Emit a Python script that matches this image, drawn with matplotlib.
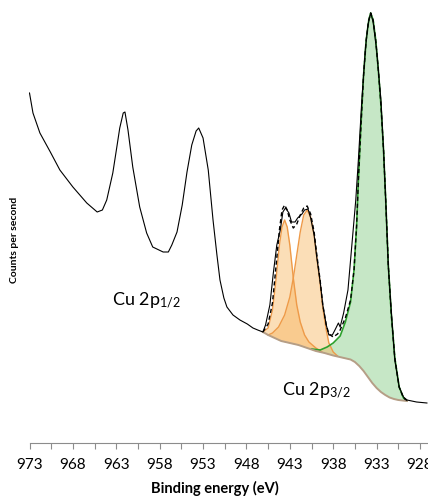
import matplotlib
matplotlib.use("Agg")
import matplotlib.pyplot as plt
import numpy as np

plt.rcParams['font.family'] = ['Lato', 'DejaVu Sans']
plt.rcParams['mathtext.fontset'] = 'custom'
plt.rcParams['mathtext.rm'] = 'Lato'
plt.rcParams['mathtext.it'] = 'Lato:italic'
plt.rcParams['mathtext.bf'] = 'Lato:bold'

# ---- measured spectrum (binding energy eV, counts per second in kcps) ----
data_e = [973.0, 972.6, 971.8, 970.6, 969.5, 968.0, 966.4, 965.2, 964.6, 964.1,
          963.4, 962.9, 962.6, 962.2, 962.0, 961.65, 961.1, 960.3, 959.5, 958.8,
          957.6, 957.0, 956.6, 956.0, 955.4, 954.85, 954.3, 953.8, 953.5, 953.0,
          952.4, 951.85, 951.4, 951.05, 950.6, 950.25, 949.55, 948.75, 947.9, 947.25,
          946.7, 946.1, 945.8, 945.3, 944.9, 944.5, 944.1, 943.8, 943.5, 943.1,
          942.8, 942.4, 942.1, 941.6, 941.3, 940.9, 940.6, 940.2, 939.9, 939.5,
          939.2, 938.8, 938.5, 938.1, 937.8, 937.4, 937.2, 936.8, 936.3, 935.9,
          935.4, 935.1, 934.7, 934.3, 934.0, 933.68, 933.4, 933.0, 932.5, 932.2,
          931.95, 931.65, 931.26, 930.9, 930.4, 929.9, 929.5, 928.4, 927.2]
data_i = [32.7, 30.7, 28.7, 26.8, 25.0, 23.3, 21.7, 20.8, 21.0, 22.0,
          24.7, 27.5, 29.2, 30.7, 30.8, 29.0, 25.3, 21.3, 18.7, 17.3,
          16.8, 16.8, 17.5, 18.8, 21.5, 24.8, 27.5, 28.9, 29.2, 28.2,
          25.0, 20.0, 16.5, 14.0, 12.2, 11.3, 10.5, 10.0, 9.6, 9.2,
          9.0, 8.8, 9.5, 11.5, 14.7, 17.5, 19.0, 20.8, 21.2, 20.7,
          19.8, 19.8, 20.2, 20.6, 21.0, 21.1, 20.2, 18.5, 16.3, 13.8,
          11.5, 9.5, 8.5, 8.5, 9.0, 9.7, 9.3, 10.7, 13.0, 17.0,
          22.0, 26.0, 32.0, 37.0, 39.5, 40.7, 39.8, 37.0, 32.0, 27.0,
          22.0, 15.3, 10.3, 6.0, 3.3, 2.3, 2.0, 1.8, 1.7]

# ---- Shirley background ----
bg_e = [946.1, 945.5, 945.0, 944.5, 944.0, 943.0, 942.0, 941.0, 940.0, 939.0,
        938.0, 937.0, 936.0, 935.5, 935.0, 934.5, 934.0, 933.5, 933.0, 932.5,
        932.0, 931.5, 931.0, 930.5, 930.0, 929.5]
bg_i = [8.8, 8.5, 8.3, 8.1, 7.9, 7.7, 7.5, 7.2, 6.9, 6.7,
        6.45, 6.25, 6.05, 5.8, 5.4, 4.9, 4.3, 3.7, 3.2, 2.8,
        2.5, 2.25, 2.1, 2.0, 1.95, 1.9]

# ---- fitted satellite component 1 (on background) ----
sat1_e = [946.1, 945.5, 945.0, 944.6, 944.2, 943.9, 943.6, 943.3, 943.0, 942.6,
          942.2, 941.8, 941.3, 940.8, 940.0, 939.3]
sat1_i = [8.8, 9.2, 11.0, 14.0, 17.5, 19.3, 20.0, 19.3, 17.5, 14.2,
          11.5, 9.8, 8.5, 7.8, 7.2, 6.8]

# ---- fitted satellite component 2 (on background) ----
sat2_e = [945.5, 945.0, 944.3, 943.6, 943.0, 942.6, 942.2, 941.8, 941.4, 941.0,
          940.6, 940.2, 939.9, 939.5, 939.2, 938.8, 938.5, 938.0, 937.5]
sat2_i = [8.5, 8.7, 9.3, 10.5, 12.3, 14.2, 16.5, 18.8, 20.5, 21.0,
          20.3, 18.5, 16.3, 13.6, 11.2, 9.0, 7.7, 6.8, 6.4]

# ---- fitted Cu 2p3/2 main component (on background) ----
main_e = [940.5, 939.5, 938.7, 938.0, 937.2, 936.6, 936.0, 935.6, 935.3, 935.1,
          934.8, 934.5, 934.2, 933.9, 933.68, 933.4, 933.1, 932.8, 932.5, 932.2,
          931.95, 931.65, 931.3, 930.9, 930.4, 929.9, 929.5]
main_i = [7.1, 7.0, 7.3, 7.7, 8.4, 9.8, 11.8, 15.0, 19.5, 24.0,
          29.5, 34.5, 38.0, 40.0, 40.7, 40.0, 38.0, 35.0, 31.5, 27.0,
          22.0, 15.5, 10.5, 6.2, 3.3, 2.2, 1.95]

# ---- fit envelope ----
env_e = [946.1, 945.5, 945.0, 944.6, 944.2, 943.9, 943.6, 943.3, 943.0, 942.6,
         942.2, 941.8, 941.4, 941.0, 940.6, 940.2, 939.9, 939.5, 939.2, 938.8,
         938.5, 938.0, 937.5, 937.2, 936.6, 936.0, 935.6, 935.3, 935.1, 934.8,
         934.5, 934.2, 933.9, 933.68, 933.4, 933.1, 932.8, 932.5, 932.2, 931.95,
         931.65, 931.3, 930.9, 930.4, 929.9, 929.5]
env_i = [8.8, 9.6, 11.7, 15.3, 19.0, 21.0, 21.5, 21.0, 20.0, 19.2,
         19.6, 20.5, 21.2, 21.4, 20.6, 18.8, 16.6, 13.9, 11.5, 9.5,
         8.6, 8.3, 8.6, 9.0, 10.2, 12.0, 15.0, 19.5, 24.0, 29.5,
         34.5, 38.0, 40.0, 40.7, 40.0, 38.0, 35.0, 31.5, 27.0, 22.0,
         15.5, 10.5, 6.2, 3.3, 2.2, 1.95]

tick_vals = [973, 968, 963, 958, 953, 948, 943, 938, 933, 928]

fig = plt.figure(figsize=(4.28, 4.98), dpi=100)
ax = fig.add_axes([29.5 / 428, 55 / 498, 403.5 / 428, 433 / 498])

bg_e_a, bg_i_a = np.array(bg_e), np.array(bg_i)


def fill_component(e, i, color, alpha):
    e = np.array(e)
    i = np.array(i)
    base = np.interp(e[::-1], bg_e_a[::-1], bg_i_a[::-1])[::-1]
    ax.fill_between(e, base, i, color=color, alpha=alpha, lw=0, zorder=1)


fill_component(main_e, main_i, '#8fd18f', 0.5)
fill_component(sat1_e, sat1_i, '#f8b660', 0.45)
fill_component(sat2_e, sat2_i, '#f8b660', 0.45)

ax.plot(sat1_e, sat1_i, color='#ee9a48', lw=1.0, zorder=2)
ax.plot(sat2_e, sat2_i, color='#ee9a48', lw=1.0, zorder=2)
ax.plot(main_e, main_i, color='#2ca02c', lw=1.2, zorder=2)
ax.plot(bg_e, bg_i, color='#b59e86', lw=1.4, zorder=3)
ax.plot(data_e, data_i, color='black', lw=0.8, zorder=4)
ax.plot(env_e, env_i, color='black', lw=1.0, ls=(0, (3, 2)), zorder=5)

ax.set_xlim(973, 926.5)
ax.set_ylim(-2.3, 41.0)

all_ticks = np.arange(973, 926, -2.5)
ax.set_xticks(all_ticks)
ax.set_xticklabels([str(int(t)) if int(t) in tick_vals and t == int(t) else '' for t in all_ticks],
                   fontsize=11)
ax.tick_params(axis='x', direction='out', length=4, width=0.8, color='#8c8c8c', pad=7)
ax.set_yticks([])
for s in ['left', 'right', 'top']:
    ax.spines[s].set_visible(False)
ax.spines['bottom'].set_color('#8c8c8c')
ax.spines['bottom'].set_linewidth(0.8)
ax.patch.set_alpha(0)

ax.text(963.5, 11.5, 'Cu 2p$_{1/2}$', fontsize=13, ha='left', va='baseline')
ax.text(943.9, 2.5, 'Cu 2p$_{3/2}$', fontsize=13, ha='left', va='baseline')

fig.text(215 / 428, 1 - 488 / 498, 'Binding energy (eV)', fontsize=10.5,
         fontweight='bold', ha='center', va='center')
fig.text(15 / 428, 1 - 240 / 498, 'Counts per second', fontsize=7.5,
         fontweight='bold', ha='center', va='center', rotation=90)

fig.savefig('out.png', dpi=100)
